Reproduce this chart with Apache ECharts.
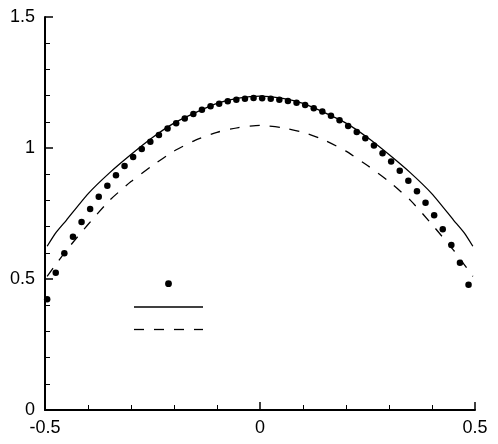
<!DOCTYPE html>
<html>
<head>
<meta charset="utf-8">
<script src="https://cdn.jsdelivr.net/npm/echarts@6/dist/echarts.min.js"></script>
<style>
  html, body { margin: 0; padding: 0; background: #fff; }
  #chart { width: 498px; height: 444px; }
</style>
</head>
<body>
<div id="chart"></div>
<script>
// dots (measured points)
const dotX = [-0.495, -0.475, -0.455, -0.435, -0.415, -0.395, -0.375, -0.355, -0.335, -0.315,
  -0.295, -0.275, -0.255, -0.235, -0.215, -0.195, -0.175, -0.155, -0.135, -0.115,
  -0.095, -0.075, -0.055, -0.035, -0.015, 0.005, 0.025, 0.045, 0.065, 0.085,
  0.105, 0.125, 0.145, 0.165, 0.185, 0.205, 0.225, 0.245, 0.265, 0.285,
  0.305, 0.325, 0.345, 0.365, 0.385, 0.405, 0.425, 0.445, 0.465, 0.485];
const dotY = [0.423, 0.524, 0.598, 0.661, 0.718, 0.767, 0.814, 0.856, 0.896, 0.931,
  0.966, 0.996, 1.024, 1.050, 1.074, 1.094, 1.113, 1.130, 1.146, 1.159,
  1.169, 1.178, 1.184, 1.188, 1.191, 1.190, 1.188, 1.184, 1.179, 1.173,
  1.164, 1.152, 1.139, 1.123, 1.106, 1.084, 1.061, 1.037, 1.010, 0.980,
  0.948, 0.913, 0.875, 0.835, 0.791, 0.743, 0.690, 0.630, 0.562, 0.478];

// curves
const curveX = [-0.495, -0.475, -0.45, -0.4, -0.35, -0.3, -0.25, -0.2, -0.15, -0.1, -0.05, 0,
  0.05, 0.1, 0.15, 0.2, 0.25, 0.3, 0.35, 0.4, 0.45, 0.475, 0.495];
const solidY = [0.625, 0.676, 0.725, 0.825, 0.905, 0.975, 1.040, 1.095, 1.135, 1.170, 1.190, 1.198,
  1.190, 1.170, 1.135, 1.095, 1.040, 0.975, 0.905, 0.825, 0.725, 0.676, 0.625];
const dashY = [0.510, 0.555, 0.610, 0.708, 0.800, 0.872, 0.933, 0.988, 1.030, 1.060, 1.078, 1.086,
  1.078, 1.060, 1.030, 0.988, 0.933, 0.872, 0.800, 0.708, 0.610, 0.555, 0.510];

const xTicks = [-0.5, 0, 0.5];
const yTicks = [0, 0.5, 1, 1.5];

const pairs = (xs, ys) => xs.map((x, i) => [x, ys[i]]);

const ink = 'black';

const makeAxis = (ticks, margin) => ({
  type: 'value',
  min: ticks[0],
  max: ticks[ticks.length - 1],
  interval: ticks[1] - ticks[0],
  axisLine: { show: true, onZero: false, lineStyle: { color: ink, width: 2 } },
  axisTick: { show: true, inside: true, length: 8, lineStyle: { color: ink, width: 1.5 } },
  minorTick: { show: true, splitNumber: 5, length: 5, lineStyle: { color: ink, width: 1 } },
  splitLine: { show: false },
  axisLabel: {
    fontFamily: '"Liberation Sans", Arial, sans-serif',
    fontSize: 18,
    color: ink,
    margin,
    formatter: (v) => String(v),
  },
});

const myChart = echarts.init(document.getElementById('chart'));

// no backgroundColor: with it set the dark axes did not show up
myChart.setOption({
  animation: false,
  grid: { left: 45, right: 23, top: 17, bottom: 34 },
  xAxis: makeAxis(xTicks, 9),
  yAxis: makeAxis(yTicks, 10),
  // key glyphs without text, as in the original
  graphic: [
    { type: 'circle', shape: { cx: 168.5, cy: 283.7, r: 3.4 }, style: { fill: ink } },
    { type: 'line', shape: { x1: 134, y1: 307, x2: 203, y2: 307 }, style: { stroke: ink, lineWidth: 1.3 } },
    { type: 'line', shape: { x1: 134, y1: 329.5, x2: 203, y2: 329.5 }, style: { stroke: ink, lineWidth: 1.3, lineDash: [10, 10] } },
  ],
  series: [
    {
      name: 'dots',
      type: 'scatter',
      symbol: 'circle',
      symbolSize: 6.5,
      itemStyle: { color: ink, opacity: 1 },
      data: pairs(dotX, dotY),
      z: 3,
    },
    {
      name: 'solid',
      type: 'line',
      symbol: 'none',
      smooth: 0.2,
      lineStyle: { color: ink, width: 1.3, type: 'solid' },
      data: pairs(curveX, solidY),
    },
    {
      name: 'dashed',
      type: 'line',
      symbol: 'none',
      smooth: 0.2,
      lineStyle: { color: ink, width: 1.3, type: [10, 10] },
      data: pairs(curveX, dashY),
    },
  ],
});
</script>
</body>
</html>
